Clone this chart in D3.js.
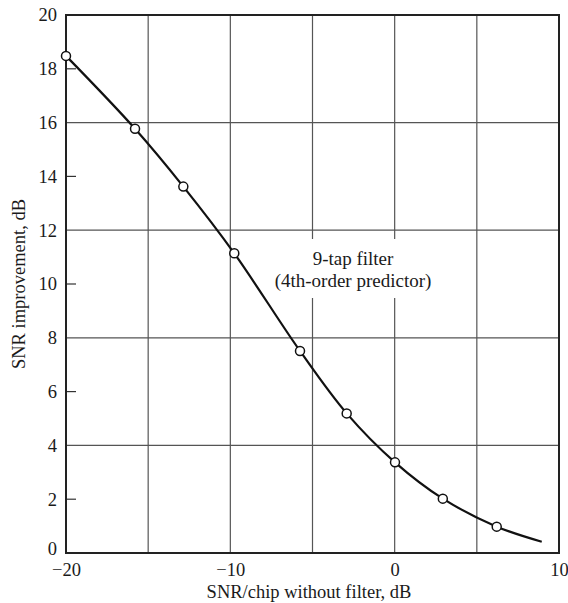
<!DOCTYPE html>
<html><head><meta charset="utf-8">
<script src="https://cdn.jsdelivr.net/npm/d3@7"></script>
<style>body{margin:0;background:#fff}svg{display:block}text{font-family:"Liberation Serif","Times New Roman",serif;fill:#1a1a1a}</style>
</head><body><svg id="c" width="568" height="603"></svg>
<script>
// Data
const snrIn = [-20, -15.8, -12.86, -9.76, -5.76, -2.92, 0.02, 2.93, 6.21];
const snrGain = [18.48, 15.77, 13.62, 11.14, 7.51, 5.19, 3.37, 2.02, 0.98];
const curveEnd = [8.95, 0.42];
const xTicks = [-20, -10, 0, 10];
const yTicks = [0, 2, 4, 6, 8, 10, 12, 14, 16, 18, 20];
const xGrid = [-15, -10, -5, 0, 5];
const yGrid = [4, 8, 12, 16];
const yMinor = [2, 6, 10, 14, 18];
const labelLines = ["9-tap filter", "(4th-order predictor)"];

const svg = d3.select("#c");
const L = 66, R = 559, T = 15, B = 553;
const FS = 18.5;
const x = d3.scaleLinear().domain([-20, 10]).range([L, R]);
const y = d3.scaleLinear().domain([0, 20]).range([B, T]);

// grid
svg.append("g").selectAll("line").data(xGrid).join("line")
  .attr("x1", d => x(d)).attr("x2", d => x(d)).attr("y1", T).attr("y2", B)
  .attr("stroke", "#555").attr("stroke-width", 1.2);
svg.append("g").selectAll("line").data(yGrid).join("line")
  .attr("y1", d => y(d)).attr("y2", d => y(d)).attr("x1", L).attr("x2", R)
  .attr("stroke", "#555").attr("stroke-width", 1.2);
// minor ticks on left
svg.append("g").selectAll("line").data(yMinor).join("line")
  .attr("y1", d => y(d)).attr("y2", d => y(d)).attr("x1", L).attr("x2", L + 10)
  .attr("stroke", "#333").attr("stroke-width", 1.2);

// label background & text
const lx = 353;
svg.append("rect").attr("x", 270).attr("y", 239).attr("width", 166).attr("height", 59).attr("fill", "#fff");
svg.append("g").selectAll("text").data(labelLines).join("text")
  .attr("x", lx).attr("y", (d, i) => 265 + i * 22).attr("text-anchor", "middle")
  .attr("font-size", 19).text(d => d);

// frame
svg.append("rect").attr("x", L).attr("y", T).attr("width", R - L).attr("height", B - T)
  .attr("fill", "none").attr("stroke", "#222").attr("stroke-width", 2);

// axes labels via d3 axes (no lines)
const yAxis = svg.append("g").attr("transform", `translate(${L},0)`)
  .call(d3.axisLeft(y).tickValues(yTicks).tickSize(0).tickPadding(9).tickFormat(d3.format("d")));
yAxis.select(".domain").remove();
yAxis.selectAll("text").attr("font-size", FS).style("font-family", '"Liberation Serif",serif').attr("fill", "#1a1a1a");
yAxis.selectAll(".tick").filter(d => d === 0).select("text").attr("dy", "0.1em");

const fmt = d => d < 0 ? "\u2212" + Math.abs(d) : String(d);
const xAxis = svg.append("g").attr("transform", `translate(0,${B})`)
  .call(d3.axisBottom(x).tickValues(xTicks).tickSize(0).tickPadding(10).tickFormat(fmt));
xAxis.select(".domain").remove();
xAxis.selectAll("text").attr("font-size", FS).style("font-family", '"Liberation Serif",serif').attr("fill", "#1a1a1a");

// titles
svg.append("text").attr("x", 309).attr("y", 598).attr("text-anchor", "middle").attr("font-size", FS)
  .text("SNR/chip without filter, dB");
svg.append("text").attr("transform", `translate(25,${(T + B) / 2}) rotate(-90)`).attr("text-anchor", "middle")
  .attr("font-size", FS).text("SNR improvement, dB");

// curve
const pts = snrIn.map((v, i) => [v, snrGain[i]]).concat([curveEnd]);
svg.append("path").datum(pts)
  .attr("d", d3.line().x(d => x(d[0])).y(d => y(d[1])).curve(d3.curveCatmullRom))
  .attr("fill", "none").attr("stroke", "#111").attr("stroke-width", 2.2);
svg.append("g").selectAll("circle").data(snrIn).join("circle")
  .attr("cx", d => x(d)).attr("cy", (d, i) => y(snrGain[i])).attr("r", 4.5)
  .attr("fill", "#fff").attr("stroke", "#111").attr("stroke-width", 1.5);
</script></body></html>
